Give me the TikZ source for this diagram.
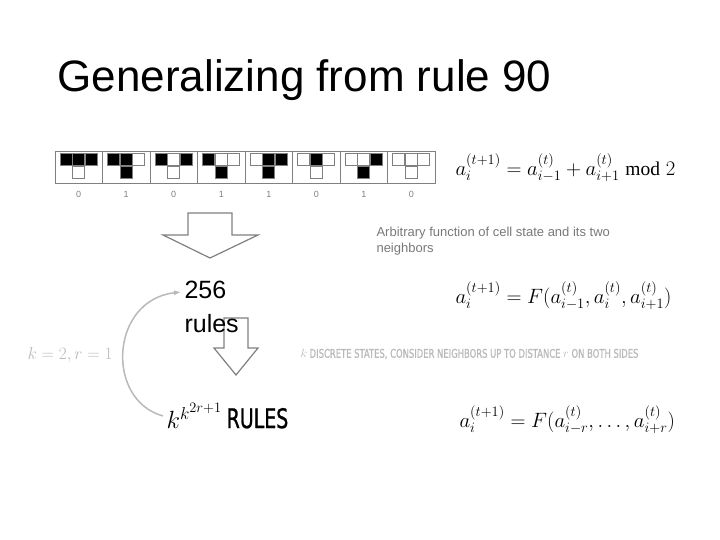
\documentclass[tikz,border=0pt]{standalone}
\usepackage{fontspec}
\setmainfont{Liberation Sans}
\newfontfamily\condfont[FakeStretch=0.78,FakeBold=1]{DejaVu Sans Condensed}
\newfontfamily\serifmod{Liberation Serif}
\usepackage{amsmath}
\usetikzlibrary{arrows.meta,positioning}
\definecolor{capgray}{RGB}{120,120,120}
\definecolor{lightgray}{RGB}{185,185,185}
\colorlet{cell0}{white}
\colorlet{cell1}{black}
\begin{document}
\begin{tikzpicture}[x=1pt,y=-1pt,
    cell/.style={draw=gray, line width=0.6pt, minimum size=12pt, inner sep=0pt, fill=cell#1},
    bigarrow/.style={draw=gray, line width=1.2pt, fill=white},
    formula/.style={font=\fontsize{19.5}{22}\selectfont, anchor=west},
    note/.style={font=\fontsize{13}{16}\selectfont, text=capgray, align=left, anchor=north west}
]
\useasboundingbox (0,0) rectangle (720,540);

% Title
\node[anchor=west, font=\fontsize{44}{48}\selectfont] (title) at (54,80) {Generalizing from rule 90};

% Rule table
\node[draw=gray, line width=0.8pt, minimum width=380pt, minimum height=32pt, inner sep=0pt] (table) at (245,167) {};
\foreach \a/\b/\c/\o [count=\i from 0] in {1/1/1/0,1/1/0/1,1/0/1/0,1/0/0/1,0/1/1/1,0/1/0/0,0/0/1/1,0/0/0/0}{
  \pgfmathsetmacro\cx{55+47.5*\i+23.75}
  \ifnum\i>0 \draw[gray, line width=0.8pt] (55+47.5*\i,151) -- (55+47.5*\i,183); \fi
  \node[cell=\a] (l\i) at (\cx-12.5,159.5) {};
  \node[cell=\b] (m\i) at (\cx,159.5) {};
  \node[cell=\c] (r\i) at (\cx+12.5,159.5) {};
  \node[cell=\o] (o\i) at (\cx,172) {};
  \node[font=\small, text=gray] (d\i) at (\cx,194) {\o};
}

% Block arrows
\draw[bigarrow] (188,213) -- (232,213) -- (232,235) -- (258,235) -- (210,258) -- (163,235) -- (188,235) -- cycle;
\draw[bigarrow] (224,318) -- (248,318) -- (248,348) -- (258,348) -- (236,375) -- (214,348) -- (224,348) -- cycle;

% Counts
\node[anchor=north west, font=\fontsize{25}{34}\selectfont, align=left] (count) at (181,278) {256\\rules};
\node[anchor=west, font=\fontsize{27}{30}\selectfont] (general) at (163,416) {$k^{k^{2r+1}}$\,{\condfont RULES}};
\node[text=lightgray, font=\fontsize{16}{18}\selectfont] (kr) at (70,355) {$k=2, r=1$};
\draw[-{Latex[length=7pt]}, lightgray, line width=1.5pt] (general.west) .. controls (105,400) and (110,300) .. (count.west |- 292,292);

% Formulas
\node[formula] (f1) at (452,168) {$a_i^{(t+1)} = a_{i-1}^{(t)} + a_{i+1}^{(t)} \;\text{\serifmod mod}\;2$};
\node[note] (n1) at (373,224) {Arbitrary function of cell state and its two\\neighbors};
\node[formula] (f2) at (452,296) {$a_i^{(t+1)} = F(a_{i-1}^{(t)}, a_i^{(t)}, a_{i+1}^{(t)})$};
\node[anchor=west, text=lightgray, font=\fontsize{12}{14}\selectfont\condfont] (n2) at (297,354) {$k$ DISCRETE STATES, CONSIDER NEIGHBORS UP TO DISTANCE $r$ ON BOTH SIDES};
\node[formula] (f3) at (456,420) {$a_i^{(t+1)} = F(a_{i-r}^{(t)}, \dots, a_{i+r}^{(t)})$};
\end{tikzpicture}
\end{document}
